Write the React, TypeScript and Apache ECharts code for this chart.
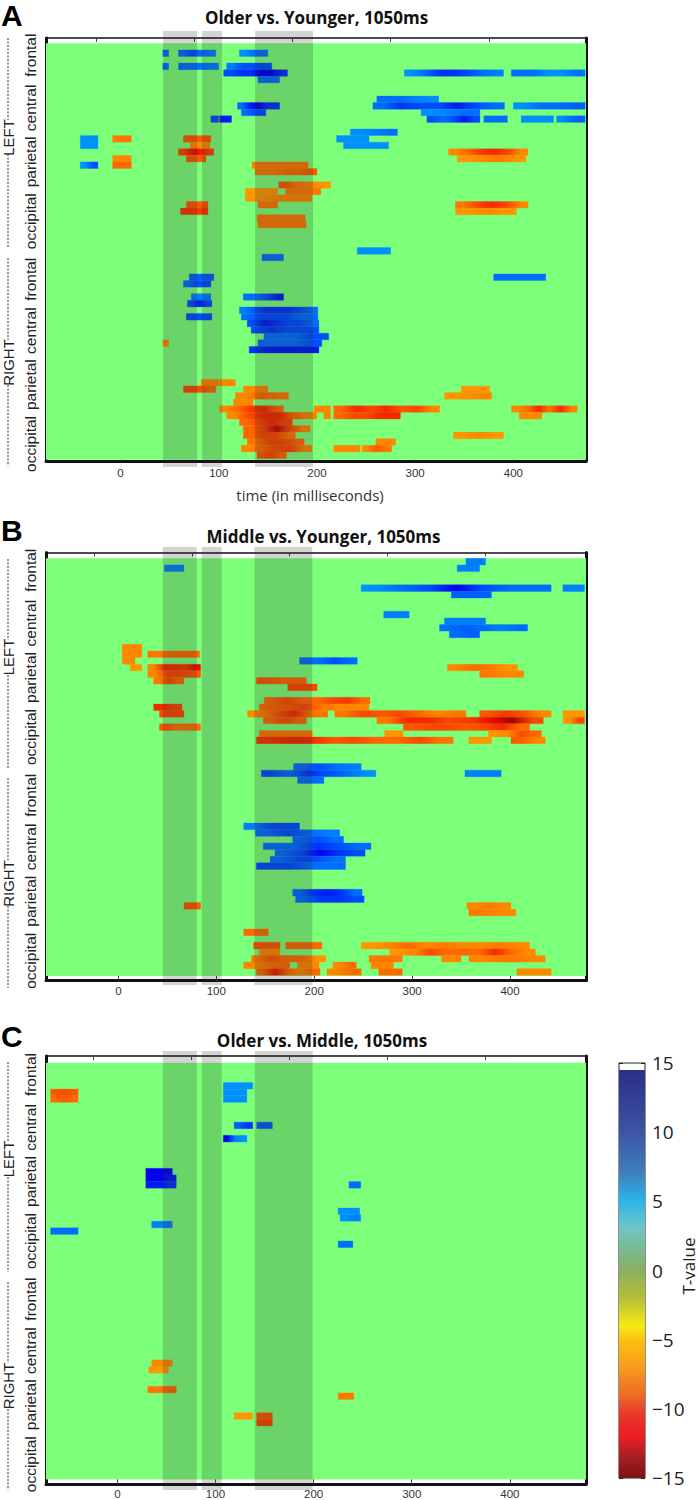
import React, { useEffect, useRef } from "react";
import * as echarts from "echarts";

type Seg = [number, number, number, number[]];

// [row, start ms, end ms, T-values along the run]
const segmentsA: Seg[] = [
  [1, 43, 49, [8]], [1, 59, 97, [8, 9, 8, 7.5]], [1, 121, 150, [7, 8, 8]],
  [3, 43, 49, [8]], [3, 59, 100, [8, 8, 7.5]], [3, 108, 154, [7.5, 9, 9, 9]],
  [4, 105, 170, [9, 10, 10, 12, 12, 10]], [4, 289, 390, [7, 8, 10, 10, 9, 8, 7.5]], [4, 398, 473, [8, 8, 7, 7, 8]],
  [5, 140, 162, [8]],
  [8, 261, 324, [8, 8, 7.5, 7]],
  [9, 119, 162, [8, 11, 12, 10, 10]], [9, 257, 391, [8, 10, 9, 9, 11, 9, 8]], [9, 400, 473, [7, 8, 8, 8.5]],
  [10, 123, 148, [8, 9, 9]], [10, 306, 366, [7, 7.5, 8]],
  [11, 92, 100, [9]], [11, 101, 113, [11]], [11, 312, 366, [9, 8, 9, 11, 9]], [11, 370, 394, [8]], [11, 408, 441, [7]], [11, 444, 473, [7, 8, 8.5]],
  [13, 234, 282, [7, 7.5, 8]],
  [14, -41, -23, [7]], [14, -8, 11, [-8.5]], [14, 64, 92, [-9.5]], [14, 220, 253, [7]],
  [15, -41, -23, [7]], [15, 71, 91, [-8]], [15, 227, 273, [7]],
  [16, 59, 95, [-10, -11, -12, -11, -10]], [16, 334, 415, [-8, -9, -10.5, -11, -10, -8]],
  [17, 67, 87, [-9.5]], [17, -8, 11, [-8]], [17, 343, 413, [-7.5, -8, -8.5, -7.5]],
  [18, -41, -23, [7, 9]], [18, -8, 11, [-9]], [18, 134, 191, [-8.5]],
  [19, 137, 200, [-8.5, -8.5, -9, -9, -9.5]],
  [21, 161, 214, [-9.5, -8.5, -8, -7.5]],
  [22, 127, 160, [-7.5]], [22, 168, 204, [-8.5]],
  [23, 127, 195, [-7.5, -8, -8]],
  [24, 67, 89, [-9.5]], [24, 140, 160, [-8.5]], [24, 341, 415, [-8.5, -10, -11, -10, -8]],
  [25, 61, 89, [-10.5]], [25, 341, 403, [-7.5, -8, -7.5]],
  [26, 139, 188, [-8.5]],
  [27, 140, 189, [-8.5]],
  [31, 241, 275, [7]],
  [32, 144, 166, [8]],
  [35, 70, 95, [8.5]], [35, 380, 433, [8]],
  [36, 64, 92, [8, 9, 9]],
  [38, 72, 92, [7.5]], [38, 125, 166, [8, 8, 9, 11]],
  [39, 68, 93, [9, 11, 9]],
  [40, 121, 201, [7.5, 9, 10, 10, 10, 9, 8]],
  [41, 67, 93, [9]], [41, 123, 201, [8, 9, 9, 9, 8, 8]],
  [42, 129, 202, [9, 11, 10, 9, 9, 8]],
  [43, 133, 202, [9, 10, 9, 9, 9]],
  [44, 146, 212, [8, 8, 8, 9, 9]],
  [45, 43, 49, [-8]], [45, 140, 205, [8, 8, 8, 9]],
  [46, 131, 202, [10, 11, 11, 11, 11, 11]],
  [51, 82, 100, [-8]], [51, 101, 117, [-8]],
  [52, 64, 97, [-10, -10, -9]], [52, 125, 150, [-8]], [52, 347, 376, [-7.5]],
  [53, 117, 171, [-8, -9, -8.5]], [53, 330, 378, [-7.5, -8]],
  [54, 115, 135, [-8]],
  [55, 101, 166, [-8, -9, -10.5, -11, -9]], [55, 197, 214, [-8]], [55, 217, 325, [-9, -11, -10, -11, -9.5, -10, -8]], [55, 398, 465, [-8, -9, -11, -8.5, -11, -8]],
  [56, 108, 200, [-8, -10, -11, -11, -9, -8]], [56, 207, 214, [-8]], [56, 217, 285, [-9, -10, -10, -11, -11]], [56, 406, 429, [-8]],
  [57, 121, 175, [-9, -10, -11, -10]],
  [58, 125, 193, [-9, -10, -13, -10, -8]],
  [59, 125, 178, [-9, -10, -10, -8.5]], [59, 339, 390, [-7.5, -8, -7.5]],
  [60, 129, 187, [-8.5, -10, -10, -9]], [60, 260, 280, [-8]],
  [61, 123, 195, [-8, -9, -10, -10, -8]], [61, 217, 244, [-8]], [61, 246, 276, [-8, -9.5, -8.5]],
  [62, 139, 169, [-9.5, -10, -9]],
];

const segmentsB: Seg[] = [
  [0, 355, 375, [7.5]],
  [1, 47, 67, [7.5]], [1, 346, 369, [7.5]],
  [4, 248, 442, [7, 8, 9, 12, 9, 8, 8]], [4, 454, 476, [7.5]],
  [5, 340, 381, [8.5]],
  [8, 271, 297, [7.5]],
  [9, 333, 375, [7.5]],
  [10, 328, 418, [8, 8.5, 8, 7.5, 8]],
  [11, 338, 369, [8, 8.5]],
  [13, 4, 24, [-8]],
  [14, 4, 24, [-8]], [14, 30, 83, [-8.5, -9, -9]],
  [15, 4, 17, [-8]], [15, 185, 244, [8, 8, 9, 8]],
  [16, 12, 24, [-7.5]], [16, 30, 84, [-8, -11, -11, -10.5, -12]], [16, 336, 408, [-8, -9, -8.5, -7.5]],
  [17, 30, 84, [-8, -10, -10, -9.5]], [17, 369, 414, [-8.5, -8]],
  [18, 36, 67, [-8.5, -10, -9]], [18, 141, 192, [-9.5, -9, -9]],
  [19, 173, 203, [-10]],
  [21, 149, 257, [-9, -10, -9, -9, -10, -10.5, -9]],
  [22, 36, 65, [-11, -10]], [22, 144, 256, [-9, -9.5, -10, -8.5, -8, -8]],
  [23, 42, 67, [-10]], [23, 132, 214, [-8, -8.5, -10, -11, -9, -8.5]], [23, 221, 355, [-8.5, -10, -9.5, -10, -9, -8, -8.5]], [23, 369, 442, [-9.5, -10.5, -9.5, -8]], [23, 454, 476, [-7.5]],
  [24, 148, 192, [-9, -10, -9]], [24, 264, 434, [-8.5, -11, -11, -10, -10.5, -12, -14, -10]], [24, 454, 476, [-7.5, -10]],
  [25, 42, 84, [-9.5, -8.5, -9]], [25, 291, 420, [-9.5, -10, -10, -9.5, -10, -11, -9]],
  [26, 144, 198, [-8.5]], [26, 272, 291, [-7.5]], [26, 378, 432, [-7.5, -8, -10, -9]],
  [27, 141, 342, [-10.5, -11, -11, -9.5, -10, -9, -9, -10, -8.5]], [27, 358, 381, [-7.5]], [27, 401, 436, [-9.5, -8]],
  [31, 179, 248, [8, 9, 8, 7.5]],
  [32, 146, 263, [9, 8, 10, 9, 8, 7]], [32, 354, 391, [7.5]],
  [33, 183, 210, [8]],
  [40, 128, 185, [7.5, 9, 9]],
  [41, 140, 226, [8, 9, 8, 7.5]],
  [42, 178, 230, [8, 9, 8]],
  [43, 148, 258, [8, 8, 10, 9, 8]],
  [44, 160, 252, [8, 9, 12, 10, 9]],
  [45, 155, 232, [8, 9, 9, 8]],
  [46, 141, 232, [9, 9, 8, 8]],
  [50, 178, 249, [8, 10, 11, 10, 8]],
  [51, 181, 251, [8, 10, 10, 9]],
  [52, 67, 84, [-9.5]], [52, 356, 401, [-8, -8.5, -8]],
  [53, 358, 406, [-8.5, -8]],
  [56, 128, 153, [-9]],
  [58, 138, 165, [-9.5]], [58, 171, 208, [-9]], [58, 248, 420, [-7.5, -8, -9, -8, -8.5, -8, -8, -8.5, -8]],
  [59, 144, 165, [-8]], [59, 277, 426, [-7.5, -8, -10, -9, -9, -9, -11, -9, -8]],
  [60, 136, 212, [-8.5, -9.5, -9, -9, -8.5, -7.5]], [60, 256, 290, [-8.5]], [60, 330, 350, [-8]], [60, 358, 436, [-8, -8.5, -8.5, -8]],
  [61, 128, 175, [-8, -9]], [61, 183, 205, [-8]], [61, 219, 243, [-8, -9]], [61, 258, 281, [-8]],
  [62, 141, 206, [-9, -11.5, -9, -8, -9]], [62, 213, 248, [-8, -9]], [62, 266, 290, [-9]], [62, 407, 442, [-8]],
];

const segmentsC: Seg[] = [
  [3, 108, 138, [7]],
  [4, -68, -40, [-9.5, -10, -9.5]], [4, 108, 132, [7]],
  [5, -68, -40, [-9, -9.5, -9]], [5, 108, 132, [7]],
  [9, 119, 138, [8.5, 10]], [9, 142, 158, [8.5]],
  [11, 108, 132, [12, 7.5, 7]],
  [16, 29, 56, [12]],
  [17, 29, 60, [12, 12, 11]],
  [18, 29, 60, [11, 11, 10]], [18, 236, 248, [8]],
  [22, 225, 247, [7]],
  [23, 227, 248, [7, 7.5]],
  [24, 35, 56, [7.5]],
  [25, -68, -40, [8]],
  [27, 225, 240, [8]],
  [45, 35, 56, [-8]],
  [46, 32, 52, [-7.5]],
  [49, 31, 60, [-8.5, -9]],
  [50, 225, 241, [-8.5]],
  [53, 119, 138, [-7.5]], [53, 142, 158, [-9.5]],
  [54, 142, 158, [-10]],
];

const timeTicks = [0, 100, 200, 300, 400];
const topTicks = [-25, 75, 175, 275, 375];
const regionRows = [1.8, 9.8, 18, 27, 35.8, 43.6, 51.8, 60.8];
const regionNames = ["frontal", "central", "parietal", "occipital", "frontal", "central", "parietal", "occipital"];
const jetColors = ["#7f0000", "#f10800", "#ff6800", "#ffc400", "#cdff29", "#7cff79", "#29ffcd", "#00b1ff", "#004dff", "#0000f1", "#00007f"];
const colorbarStops: [number, string][] = [
  [14.5, "#2a2f86"], [10, "#3c55a5"], [7, "#3f7fbf"], [5, "#2bb6e8"], [3, "#70c5c4"], [2, "#74bfa0"], [0, "#8aae5f"],
  [-2, "#b5bf36"], [-4, "#f6ea14"], [-5, "#fdc010"], [-7, "#f89b1e"], [-9, "#ee6b25"], [-10.5, "#e8362a"], [-12, "#ed1c24"], [-13.5, "#a51e22"], [-15, "#7a1416"],
];

const panels = [
  { letter: "A", title: "Older vs. Younger, 1050ms", titleX: 311.5, titleTop: 4, letterY: 15, top: 38, bottom: 461, firstRowY: 43.3, rowH: 6.59, bgEnd: 63.2, bandTop: 31, bandBottom: 467, xMin: -75.9, xMax: 474, bands: [[43.3, 78], [83, 103.4], [137, 196]], seg: segmentsA, labelMargin: 6, side: { x: 8, l: [38, 120, 154, 247], lc: 137.5, r: [258, 340, 385, 466], rc: 362.5 } },
  { letter: "B", title: "Middle vs. Younger, 1050ms", titleX: 318.5, titleTop: 523, letterY: 530, top: 552.5, bottom: 980.5, firstRowY: 558.3, rowH: 6.62, bgEnd: 63.1, bandTop: 547, bandBottom: 985, xMin: -73.9, xMax: 477.6, bands: [[45.4, 80], [85.1, 105.5], [139, 198]], seg: segmentsB, labelMargin: 4, side: { x: 8, l: [559, 640, 675, 768], lc: 657, r: [778, 861, 906, 988], rc: 883.5 } },
  { letter: "C", title: "Older vs. Middle, 1050ms", titleX: 317, titleTop: 1027, letterY: 1036, top: 1056, bottom: 1485, firstRowY: 1062.7, rowH: 6.62, bgEnd: 63.1, bandTop: 1051, bandBottom: 1490, xMin: -72.7, xMax: 477.6, bands: [[46.3, 81], [86, 106.3], [140, 199]], seg: segmentsC, labelMargin: 4, side: { x: 8, l: [1062, 1141, 1177, 1272], lc: 1159, r: [1282, 1363, 1409, 1490], rc: 1386 } },
];

const FRAME = "#111";
const LAT = "Liberation Sans, Arial, sans-serif";
const OPEN = "Open Sans, sans-serif";

const jet = (t: number) => echarts.color.lerp((t + 15) / 30, jetColors) as string;

function segFill(values: number[]) {
  if (values.length === 1) return jet(values[0]);
  return new echarts.graphic.LinearGradient(0, 0, 1, 0,
    values.map((t, i) => ({ offset: (i + 0.5) / values.length, color: jet(t) })));
}

function buildOption() {
  const grid: any[] = [], xAxis: any[] = [], yAxis: any[] = [], series: any[] = [], title: any[] = [], graphic: any[] = [];

  panels.forEach((p, i) => {
    grid.push({ left: 46, width: 540, top: p.top, height: p.bottom - p.top, show: true, backgroundColor: "#fff", borderWidth: 0 });
    const yMin = (p.top - p.firstRowY) / p.rowH;
    const yMax = (p.bottom - p.firstRowY) / p.rowH;
    const xBottom = i * 2, yLeft = i * 2;
    xAxis.push({
      type: "value", gridIndex: i, position: "bottom", min: p.xMin, max: p.xMax, splitLine: { show: false },
      axisLine: { show: true, onZero: false, lineStyle: { color: FRAME, width: 3 } },
      axisTick: { show: true, inside: true, length: 5, customValues: timeTicks, lineStyle: { color: "#444", width: 1 } },
      axisLabel: { show: true, customValues: timeTicks, margin: p.labelMargin, fontFamily: LAT, fontSize: 11.5, color: "#333" },
    });
    xAxis.push({
      type: "value", gridIndex: i, position: "top", min: p.xMin, max: p.xMax, splitLine: { show: false },
      axisLine: { show: true, onZero: false, lineStyle: { color: FRAME, width: 1.5 } },
      axisTick: { show: true, inside: true, length: 4, customValues: topTicks, lineStyle: { color: "#444", width: 1 } },
      axisLabel: { show: false },
    });
    yAxis.push({
      type: "value", gridIndex: i, position: "left", inverse: true, min: yMin, max: yMax, splitLine: { show: false },
      axisLine: { show: true, onZero: false, lineStyle: { color: FRAME, width: 3 } },
      axisTick: { show: false },
      axisLabel: {
        show: true, customValues: regionRows, rotate: 90, margin: 8, fontFamily: LAT, fontSize: 15.5, color: "#222",
        formatter: (v: number) => regionNames[regionRows.indexOf(v)] ?? "",
      },
    });
    yAxis.push({
      type: "value", gridIndex: i, position: "right", inverse: true, min: yMin, max: yMax, splitLine: { show: false },
      axisLine: { show: true, onZero: false, lineStyle: { color: FRAME, width: 3 } },
      axisTick: { show: false }, axisLabel: { show: false },
    });

    series.push({
      type: "custom", xAxisIndex: xBottom, yAxisIndex: yLeft, silent: true, z: 1, data: [[p.xMin, p.xMax, 0, p.bgEnd]],
      encode: { x: [0, 1], y: [2, 3] },
      renderItem: (_: any, api: any) => {
        const a = api.coord([api.value(0), api.value(2)]);
        const b = api.coord([api.value(1), api.value(3)]);
        return { type: "rect", shape: { x: a[0], y: a[1], width: b[0] - a[0], height: b[1] - a[1] }, style: { fill: jetColors[5] } };
      },
    });
    series.push({
      type: "custom", xAxisIndex: xBottom, yAxisIndex: yLeft, silent: true, z: 2, clip: true,
      data: p.seg.map((s) => [s[0], s[1], s[2]]),
      dimensions: ["row", "start", "end"], encode: { x: [1, 2], y: 0 },
      renderItem: (params: any, api: any) => {
        const a = api.coord([api.value(1), api.value(0)]);
        const b = api.coord([api.value(2), api.value(0) + 1]);
        const fill = segFill(p.seg[params.dataIndex][3]);
        return { type: "rect", shape: { x: a[0], y: a[1], width: b[0] - a[0], height: b[1] - a[1] }, style: { fill, stroke: fill, lineWidth: 0.3 } };
      },
    });
    series.push({
      type: "custom", xAxisIndex: xBottom, yAxisIndex: yLeft, silent: true, z: 5, data: p.bands, clip: false,
      encode: { x: [0, 1] },
      renderItem: (_: any, api: any) => {
        const a = api.coord([api.value(0), 0]);
        const b = api.coord([api.value(1), 0]);
        return { type: "rect", shape: { x: a[0], y: p.bandTop, width: b[0] - a[0], height: p.bandBottom - p.bandTop }, style: { fill: "rgba(42,42,42,0.2)" } };
      },
    });

    title.push({ text: p.title, left: p.titleX, top: p.titleTop, textAlign: "center", textStyle: { fontFamily: OPEN, fontSize: 17, fontWeight: "bold", color: "#111" } });
    graphic.push({ type: "text", x: 1, y: p.letterY, style: { text: p.letter, font: `bold 30px ${LAT}`, fill: "#000", align: "left", verticalAlign: "middle" } });

    const s = p.side;
    [[s.l[0], s.l[1]], [s.l[2], s.l[3]], [s.r[0], s.r[1]], [s.r[2], s.r[3]]].forEach(([y1, y2]) =>
      graphic.push({ type: "line", shape: { x1: s.x, y1, x2: s.x, y2 }, style: { stroke: "#333", lineWidth: 1, lineDash: [2, 1.5] } })
    );
    graphic.push({ type: "text", x: s.x, y: s.lc, rotation: Math.PI / 2, style: { text: "LEFT", font: `15px ${LAT}`, fill: "#222", align: "center", verticalAlign: "middle" } });
    graphic.push({ type: "text", x: s.x, y: s.rc, rotation: Math.PI / 2, style: { text: "RIGHT", font: `15px ${LAT}`, fill: "#222", align: "center", verticalAlign: "middle" } });
  });

  graphic.push({ type: "text", x: 310, y: 495, style: { text: "time (in milliseconds)", font: `15px ${OPEN}`, fill: "#333", align: "center", verticalAlign: "middle" } });
  graphic.push({ type: "text", x: 688, y: 1266, rotation: Math.PI / 2, style: { text: "T-value", font: `17px ${OPEN}`, fill: "#222", align: "center", verticalAlign: "middle" } });

  // colour bar
  const cb = panels.length;
  grid.push({ left: 619, width: 26, top: 1063, height: 415, show: true, backgroundColor: "#fff", borderColor: "#222", borderWidth: 1 });
  xAxis.push({ type: "value", gridIndex: cb, min: 0, max: 1, show: false });
  const cbY = { type: "value", gridIndex: cb, min: -15, max: 15, interval: 5, splitLine: { show: false }, axisLine: { show: false } };
  yAxis.push({ ...cbY, position: "left", axisTick: { show: true, inside: true, length: 4, lineStyle: { color: "#222" } }, axisLabel: { show: false } });
  yAxis.push({
    ...cbY, position: "right", axisTick: { show: true, inside: true, length: 4, lineStyle: { color: "#222" } },
    axisLabel: { show: true, margin: 7, fontFamily: OPEN, fontSize: 19, color: "#222", formatter: (v: number) => String(v).replace("-", "\u2212") },
  });
  const top = colorbarStops[0][0], low = colorbarStops[colorbarStops.length - 1][0];
  const gradient = new echarts.graphic.LinearGradient(0, 0, 0, 1, colorbarStops.map(([t, color]) => ({ offset: (top - t) / (top - low), color })));
  series.push({
    type: "custom", xAxisIndex: xAxis.length - 1, yAxisIndex: yAxis.length - 2, silent: true, z: 2, data: [[0, 1, low, top]],
    encode: { x: [0, 1], y: [2, 3] },
    renderItem: (_: any, api: any) => {
      const a = api.coord([api.value(0), api.value(3)]);
      const b = api.coord([api.value(1), api.value(2)]);
      return { type: "rect", shape: { x: a[0], y: a[1], width: b[0] - a[0], height: b[1] - a[1] }, style: { fill: gradient } };
    },
  });

  return { animation: false, backgroundColor: "#fff", title, grid, xAxis, yAxis, series, graphic };
}

export default function App() {
  const ref = useRef<HTMLDivElement>(null);
  useEffect(() => {
    const chart = echarts.init(ref.current!, undefined, { renderer: "svg" });
    chart.setOption(buildOption() as any);
    return () => chart.dispose();
  }, []);
  return <div ref={ref} style={{ position: "absolute", left: 0, top: 0, width: 700, height: 1500 }} />;
}
